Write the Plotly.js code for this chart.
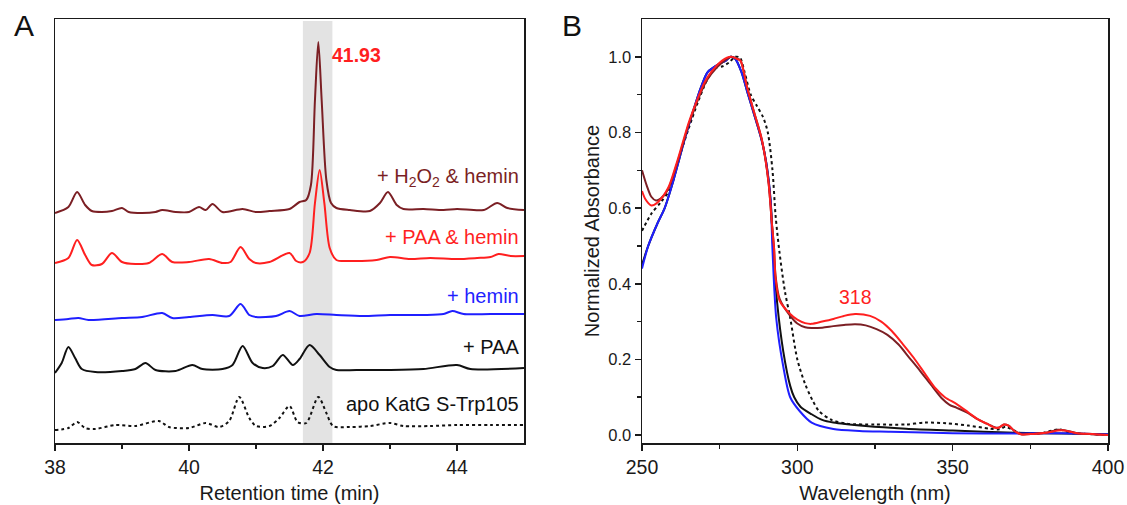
<!DOCTYPE html>
<html>
<head>
<meta charset="utf-8">
<script src="https://cdn.plot.ly/plotly-3.0.1.min.js"></script>
<style>html,body{margin:0;padding:0;background:#fff;}#chart{width:1127px;height:505px;}</style>
</head>
<body>
<div id="chart"></div>
<script>
// ---------- Panel A: HPLC chromatograms (retention time, min ; stacked signal, a.u.) ----------
const tH2O2 = [38.0,38.2,38.33,38.45,38.55,38.7,38.85,39.0,39.1,39.3,39.5,39.6,39.8,40.0,40.15,40.25,40.35,40.5,40.8,41.0,41.2,41.5,41.65,41.75,41.82,41.88,41.93,41.98,42.05,42.12,42.2,42.4,42.7,42.85,42.97,43.1,43.2,43.5,43.8,44.0,44.4,44.6,44.75,45.0];
const sH2O2 = [230,236,251,238,232,231,232,235,231,230,231,233,231,231,236,233,239,231,234,231,232,234,241,243,258,343,401,343,263,240,235,233,232,240,251,238,234,234,233,234,233,240,235,233];

const tPAAhem = [38.0,38.2,38.33,38.45,38.55,38.7,38.85,39.0,39.2,39.4,39.6,39.75,40.0,40.3,40.5,40.62,40.77,40.9,41.0,41.2,41.5,41.6,41.7,41.8,41.88,41.95,42.02,42.1,42.2,42.4,42.8,43.0,43.3,43.6,44.0,44.3,44.5,44.62,44.8,45.0];
const sPAAhem = [180,185,203,188,178,179,190,181,179,180,189,181,181,184,180,181,196,184,180,181,190,182,181,190,240,273,240,195,183,182,183,186,184,185,184,185,186,189,187,187];

const tHem = [38.0,38.2,38.35,38.5,39.0,39.3,39.6,39.75,40.0,40.35,40.6,40.77,40.9,41.0,41.3,41.5,41.65,41.9,42.2,42.6,43.0,43.5,43.8,43.93,44.1,44.5,45.0];
const sHem = [123,124,125,123,125,126,130,125,126,128,127,139,128,126,127,132,127,129,128,127,128,128,129,132,129,129,129];

const tPAA = [38.0,38.1,38.2,38.3,38.4,38.6,39.0,39.2,39.35,39.5,39.8,40.05,40.2,40.5,40.65,40.8,40.95,41.1,41.25,41.4,41.55,41.65,41.8,41.95,42.1,42.2,42.5,43.0,43.5,44.0,44.2,45.0];
const sPAA = [70,80,96,85,74,71,72,74,80,73,72,78,74,74,78,97,80,75,77,88,78,84,98,88,76,73,73,73,74,78,74,75];

const tApo = [38.0,38.2,38.33,38.45,38.6,38.9,39.2,39.55,39.7,40.0,40.25,40.45,40.6,40.75,40.9,41.0,41.2,41.35,41.5,41.62,41.75,41.93,42.05,42.15,42.4,42.7,43.0,43.2,43.6,44.0,44.5,45.0];
const sApo = [13,15,21,15,14,18,17,22,16,15,20,16,22,46,25,17,17,25,37,21,20,46,30,17,16,17,20,17,17,18,18,18];

const labelsA = ["+ H<sub>2</sub>O<sub>2</sub> &amp; hemin", "+ PAA &amp; hemin", "+ hemin", "+ PAA", "apo KatG S-Trp105"];
const peakLabelA = "41.93";
const xTicksA = [38, 40, 42, 44];

// ---------- Panel B: UV-vis spectra (wavelength, nm ; normalized absorbance) ----------
const wlBlue = [250,252,255,257.3,260,262,264,266.4,269,271.2,274.6,277,278.5,280,282,283.8,286,288.5,290,291.4,292,293.2,295.5,297.7,300.8,304.6,311.6,320,330,350,370,385,400];
const abBlue = [0.44,0.50,0.56,0.60,0.67,0.73,0.79,0.855,0.92,0.96,0.98,0.99,1.0,0.995,0.96,0.91,0.85,0.78,0.72,0.62,0.49,0.31,0.18,0.10,0.063,0.033,0.016,0.011,0.009,0.005,0.004,0.005,0.002];

const wlBlack = [250,252,255,257.3,260,262,264,266.4,269,271.2,274.6,277,278.5,280,282,283.8,286,288.5,290,291.4,292.2,293.5,295.5,297.7,299,301,304.6,308,311.6,322,335,350,370,385,400];
const abBlack = [0.45,0.50,0.56,0.60,0.67,0.73,0.79,0.855,0.92,0.96,0.98,0.99,1.0,0.995,0.96,0.91,0.85,0.78,0.72,0.62,0.50,0.35,0.22,0.13,0.10,0.075,0.055,0.04,0.033,0.024,0.017,0.012,0.006,0.004,0.002];

const wlDot = [250,253,256,259,262,265,268,271,273.5,276,278,280,281.5,283,285,287,289,290.5,292,293,294.2,296,297.7,300,302.5,305,307,311,316,325,335,341,348,355,362,365,367,369,372,378,384,388,393,400];
const abDot = [0.54,0.585,0.615,0.65,0.735,0.81,0.88,0.94,0.97,0.975,0.985,1.0,0.998,0.96,0.90,0.87,0.84,0.80,0.70,0.58,0.487,0.38,0.31,0.20,0.135,0.09,0.063,0.04,0.03,0.028,0.028,0.033,0.031,0.025,0.017,0.015,0.022,0.015,0.005,0.004,0.015,0.006,0.003,0.0];

const wlRed = [250,251,253,255,258.4,261,263,265,267.7,270,272.3,275.8,278.6,280.5,281.7,283.8,286.2,288.6,290.7,291.8,292.5,293,294.3,297.7,300,302.5,304.6,308,311.6,315,318.6,323.4,327,330.4,334,337.4,341,344.3,347.5,351.3,355,358,361,363.8,365,366.5,368,370,372,376,380,384,386,390,395,400];
const abRed = [0.645,0.625,0.607,0.615,0.653,0.715,0.77,0.825,0.885,0.93,0.96,0.99,1.0,0.995,0.99,0.92,0.85,0.78,0.67,0.56,0.495,0.415,0.355,0.32,0.305,0.296,0.294,0.30,0.307,0.315,0.32,0.315,0.30,0.275,0.24,0.205,0.163,0.125,0.10,0.082,0.06,0.042,0.03,0.019,0.02,0.028,0.025,0.01,0.002,0.003,0.006,0.012,0.012,0.005,0.003,0.0];

const wlDark = [250,251.5,253,254.5,256,258.4,261,263,265,267.7,270,272.3,275.8,278.8,280.5,281.7,283.8,286.2,288.6,290.7,291.8,292.5,293,294.3,297.7,300,302.5,304.6,308,311.6,315,318.6,322,325.5,329,332.5,336,339.5,343,346.4,349,351.3,355,358,361,363.8,365,366.5,368,370,372,376,380,384,386,390,395,400];
const abDark = [0.70,0.66,0.63,0.62,0.625,0.65,0.71,0.765,0.82,0.88,0.925,0.955,0.985,1.0,0.995,0.99,0.92,0.85,0.78,0.67,0.56,0.495,0.42,0.36,0.315,0.295,0.285,0.283,0.284,0.288,0.291,0.293,0.29,0.28,0.265,0.24,0.205,0.17,0.133,0.098,0.08,0.072,0.058,0.042,0.03,0.02,0.02,0.028,0.025,0.01,0.002,0.003,0.006,0.014,0.013,0.005,0.002,0.0];

const peakLabelB = "318";
const xTicksB = [250, 300, 350, 400];
const yTicksB = [0, 0.2, 0.4, 0.6, 0.8, 1.0];

// ---------- styling ----------
const MAROON = '#7b1f24', RED = '#ff1f1f', BLUE = '#1f1fff', BLACK = '#111111';
const FONT = 'Liberation Sans, Arial, sans-serif';
const AXC = '#1a1a1a';

function line(x, y, color, xa, ya, dash) {
  return {x: x, y: y, xaxis: xa, yaxis: ya, type: 'scatter', mode: 'lines',
          line: {color: color, width: 2, shape: 'spline', smoothing: 0.8, dash: dash || 'solid'},
          hoverinfo: 'skip'};
}

const data = [
  line(tApo, sApo, BLACK, 'x', 'y', 'dot'),
  line(tPAA, sPAA, BLACK, 'x', 'y'),
  line(tHem, sHem, BLUE, 'x', 'y'),
  line(tPAAhem, sPAAhem, RED, 'x', 'y'),
  line(tH2O2, sH2O2, MAROON, 'x', 'y'),
  line(wlDot, abDot, BLACK, 'x2', 'y2', 'dot'),
  line(wlBlack, abBlack, BLACK, 'x2', 'y2'),
  line(wlBlue, abBlue, BLUE, 'x2', 'y2'),
  line(wlDark, abDark, MAROON, 'x2', 'y2'),
  line(wlRed, abRed, RED, 'x2', 'y2')
];

const baseAxis = {
  showline: true, mirror: true, linecolor: AXC, linewidth: 1.5,
  showgrid: false, zeroline: false, ticks: 'outside', ticklen: 6, tickwidth: 1.5, tickcolor: AXC,
  tickfont: {family: FONT, size: 19.5, color: '#1a1a1a'}, automargin: false
};

const labelYs = [266, 206, 147, 96, 39];
const labelColors = [MAROON, RED, BLUE, BLACK, BLACK];
const annotations = labelsA.map((t, i) => ({
  x: 44.96, y: labelYs[i], xref: 'x', yref: 'y', text: t, showarrow: false,
  xanchor: 'right', yanchor: 'middle', font: {family: FONT, size: 20, color: labelColors[i]}
}));
annotations.push({x: 42.1, y: 388, xref: 'x', yref: 'y', text: '<b>' + peakLabelA + '</b>', showarrow: false,
  xanchor: 'left', yanchor: 'middle', font: {family: FONT, size: 19.5, color: RED}});
annotations.push({x: 318.7, y: 0.364, xref: 'x2', yref: 'y2', text: peakLabelB, showarrow: false,
  xanchor: 'center', yanchor: 'middle', font: {family: FONT, size: 19.5, color: RED}});
annotations.push({x: 24/1127, y: 1 - 25/505, xref: 'paper', yref: 'paper', text: 'A', showarrow: false,
  xanchor: 'center', yanchor: 'middle', font: {family: FONT, size: 30, color: '#111'}});
annotations.push({x: 572/1127, y: 1 - 25/505, xref: 'paper', yref: 'paper', text: 'B', showarrow: false,
  xanchor: 'center', yanchor: 'middle', font: {family: FONT, size: 30, color: '#111'}});

const layout = {
  width: 1127, height: 505,
  margin: {l: 0, r: 0, t: 0, b: 0},
  paper_bgcolor: '#ffffff', plot_bgcolor: '#ffffff',
  showlegend: false,
  font: {family: FONT, color: '#1a1a1a'},
  xaxis: Object.assign({}, baseAxis, {
    domain: [55/1127, 524/1127], range: [38, 45], anchor: 'y',
    tickmode: 'array', tickvals: xTicksA,
    minor: {tickmode: 'array', tickvals: [39, 41, 43], ticks: 'outside', ticklen: 4, tickwidth: 1.5, tickcolor: AXC},
    title: {text: 'Retention time (min)', font: {family: FONT, size: 20, color: '#1a1a1a'}, standoff: 9}
  }),
  yaxis: Object.assign({}, baseAxis, {
    domain: [1 - 443/505, 1 - 19/505], range: [0, 424], anchor: 'x',
    ticks: '', showticklabels: false
  }),
  xaxis2: Object.assign({}, baseAxis, {
    domain: [642/1127, 1108/1127], range: [250, 400], anchor: 'y2',
    tickmode: 'array', tickvals: xTicksB,
    minor: {tickmode: 'array', tickvals: [275, 325, 375], ticks: 'outside', ticklen: 4, tickwidth: 1.5, tickcolor: AXC},
    title: {text: 'Wavelength (nm)', font: {family: FONT, size: 20, color: '#1a1a1a'}, standoff: 9}
  }),
  yaxis2: Object.assign({}, baseAxis, {
    domain: [1 - 443/505, 1 - 19/505], range: [-0.021, 1.10], anchor: 'x2',
    tickmode: 'array', tickvals: yTicksB, tickformat: '.1f',
    tickfont: {family: FONT, size: 16.5, color: '#1a1a1a'},
    minor: {tickmode: 'array', tickvals: [0.1, 0.3, 0.5, 0.7, 0.9], ticks: 'outside', ticklen: 4, tickwidth: 1.5, tickcolor: AXC},
    title: {text: 'Normalized Absorbance', font: {family: FONT, size: 20, color: '#1a1a1a'}, standoff: 3}
  }),
  shapes: [{type: 'rect', xref: 'x', yref: 'y', x0: 41.70, x1: 42.14, y0: 0, y1: 422,
            fillcolor: '#e3e3e3', line: {width: 0}, layer: 'below'}],
  annotations: annotations
};

Plotly.newPlot('chart', data, layout, {staticPlot: true, displayModeBar: false});
</script>
</body>
</html>
